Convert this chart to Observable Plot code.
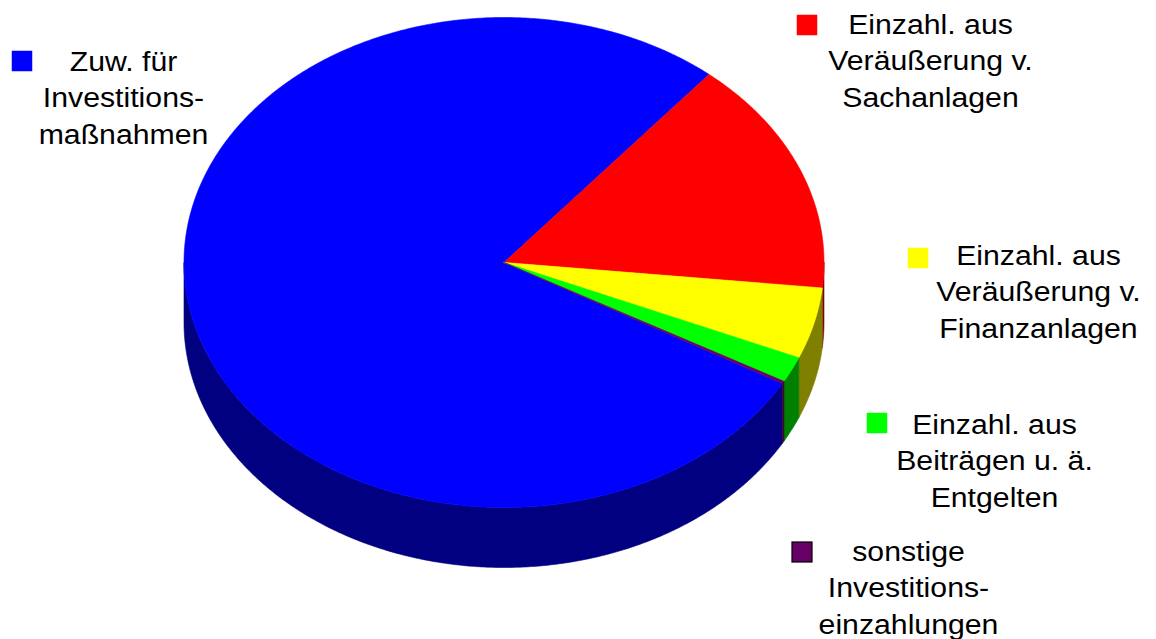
<!DOCTYPE html>
<html>
<head>
<meta charset="utf-8">
<script src="https://cdn.jsdelivr.net/npm/d3@7"></script>
<script src="https://cdn.jsdelivr.net/npm/@observablehq/plot@0.6"></script>
<style>
  html, body { margin: 0; padding: 0; background: #fff; }
  #chart svg { display: block; }
</style>
</head>
<body>
<div id="chart"></div>
<script>
// ---- data ----
const categories = [
  "Zuw. für Investitionsmaßnahmen",
  "Einzahl. aus Veräußerung v. Sachanlagen",
  "Einzahl. aus Veräußerung v. Finanzanlagen",
  "Einzahl. aus Beiträgen u. ä. Entgelten",
  "sonstige Investitionseinzahlungen"
];
const labelLines = [
  ["Zuw. für", "Investitions-", "maßnahmen"],
  ["Einzahl. aus", "Veräußerung v.", "Sachanlagen"],
  ["Einzahl. aus", "Veräußerung v.", "Finanzanlagen"],
  ["Einzahl. aus", "Beiträgen u. ä.", "Entgelten"],
  ["sonstige", "Investitions-", "einzahlungen"]
];
const shares = [77.9, 15.6, 4.7, 1.7, 0.17];

// ---- styles / layout ----
const topColors  = ["#0000ff", "#ff0000", "#ffff00", "#00ff00", "#660066"];
const sideColors = ["#000080", "#800000", "#808000", "#008000", "#330033"];
const W = 1156, H = 639;
const pie = {cx: 503.5, cy: 262, rx: 320, ry: 245, depth: 60, startDeg: -29.6};
const legendLayout = [
  {cx: 123,  lastBase: 143, sqX: 12,  sqY: 51},
  {cx: 930,  lastBase: 106, sqX: 797, sqY: 15},
  {cx: 1038, lastBase: 337, sqX: 908, sqY: 248},
  {cx: 994,  lastBase: 506, sqX: 867, sqY: 413},
  {cx: 908,  lastBase: 633, sqX: 792, sqY: 542}
];
const SQ = 20, FS = 27, LINE = 36.5;

// ---- geometry derived from shares ----
const total = d3.sum(shares);
const rad = d => d * Math.PI / 180;
const px = t => pie.cx + pie.rx * Math.cos(rad(t));
const py = t => pie.cy - pie.ry * Math.sin(rad(t));
function arcPts(a0, a1, dy = 0) { // a0 > a1 (clockwise)
  const n = Math.max(2, Math.ceil(Math.abs(a0 - a1) * 2));
  return d3.range(n + 1).map(i => {
    const t = a0 + (a1 - a0) * i / n;
    return {x: px(t), y: py(t) + dy};
  });
}
let a = pie.startDeg;
const slices = shares.map((v, i) => {
  const span = v / total * 360;
  const s = {i, a0: a, a1: a - span};
  a -= span;
  return s;
});
const topPolys = slices.map(s => {
  const c = {x: pie.cx, y: pie.cy};
  return {i: s.i, pts: [c, ...arcPts(s.a0, s.a1), c]};
});
const sidePolys = [];
slices.forEach(s => {
  const hi = s.a0, lo = s.a1;
  for (let k = -2; k <= 1; k++) {
    const b0 = 360 * k, b1 = -180 + 360 * k; // bottom half: (b1, b0)
    const h = Math.min(hi, b0), l = Math.max(lo, b1);
    if (h > l) {
      const top = arcPts(h, l);
      const bot = arcPts(h, l, pie.depth).reverse();
      sidePolys.push({i: s.i, pts: [...top, ...bot, top[0]]});
    }
  }
});

const marks = [];
sidePolys.forEach(p => marks.push(Plot.line(p.pts, {
  x: "x", y: "y", curve: "linear",
  fill: sideColors[p.i], stroke: sideColors[p.i], strokeWidth: 0.6
})));
topPolys.forEach(p => marks.push(Plot.line(p.pts, {
  x: "x", y: "y", curve: "linear",
  fill: topColors[p.i], stroke: topColors[p.i], strokeWidth: 0.6
})));
legendLayout.forEach((L, i) => {
  marks.push(Plot.rect([L], {
    x1: d => d.sqX, x2: d => d.sqX + SQ, y1: d => d.sqY, y2: d => d.sqY + SQ,
    fill: topColors[i], stroke: i === 4 ? "#000" : topColors[i], strokeWidth: i === 4 ? 1.2 : 0.5
  }));
  marks.push(Plot.text([L], {
    x: d => d.cx, y: d => d.lastBase, text: () => labelLines[i].join("\n"),
    textAnchor: "middle", lineAnchor: "bottom", lineHeight: LINE / FS,
    fontSize: FS, fontFamily: "Liberation Sans, Arial, sans-serif", fill: "#000"
  }));
});

const svg = Plot.plot({
  width: W, height: H,
  marginTop: 0, marginRight: 0, marginBottom: 0, marginLeft: 0,
  x: {domain: [0, W], range: [0, W], axis: null},
  y: {domain: [0, H], range: [0, H], axis: null},
  style: {background: "#fff", overflow: "visible"},
  marks
});
// slight horizontal stretch of the label text, as in the reference
d3.select(svg).selectAll("text").each(function () {
  const tr = this.getAttribute("transform");
  if (tr) this.setAttribute("transform", tr + " scale(1.12,1)");
});
document.getElementById("chart").appendChild(svg);
</script>
</body>
</html>
